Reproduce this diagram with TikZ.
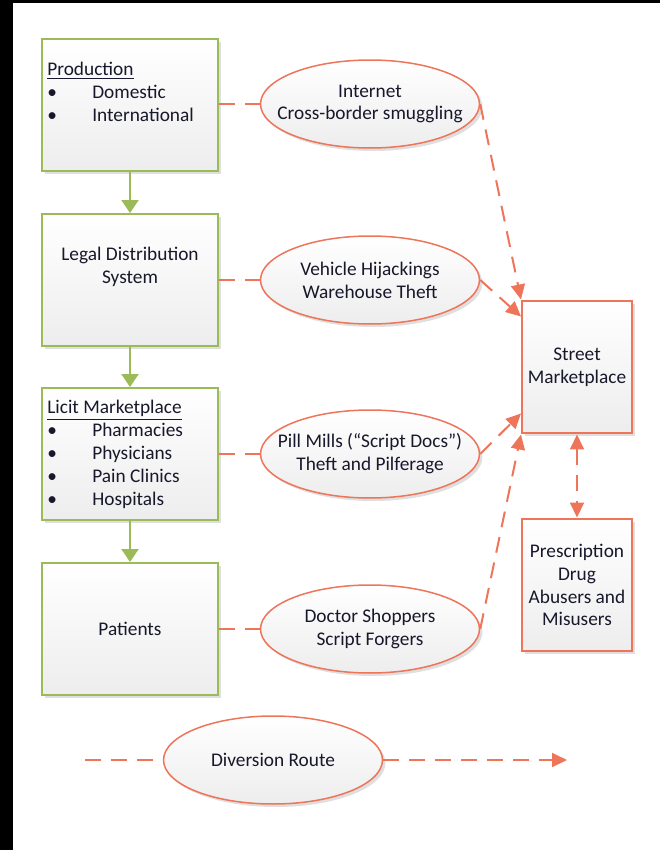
\documentclass[tikz,border=0pt]{standalone}
\usepackage{fontspec}
\setmainfont{Carlito}
\usetikzlibrary{shapes.geometric,arrows.meta,shadows}
\definecolor{boxgreen}{RGB}{155,187,89}
\definecolor{routered}{RGB}{238,116,90}
\definecolor{inktext}{RGB}{24,24,44}
\tikzset{
  shade/.style={top color=white,bottom color=gray!14,text=inktext,font=\fontsize{11}{13}\selectfont,
    drop shadow={shadow xshift=0.06cm,shadow yshift=-0.06cm,opacity=0.25}},
  greenbox/.style={shade,rectangle,draw=boxgreen,line width=0.04cm,inner sep=0pt,minimum width=3.52cm,minimum height=2.64cm,align=center},
  redbox/.style={shade,rectangle,draw=routered,line width=0.04cm,inner sep=0pt,minimum width=2.2cm,minimum height=2.66cm,align=center},
  route/.style={shade,ellipse,draw=routered,line width=0.03cm,inner ysep=0pt,inner xsep=-0.32cm,minimum width=4.38cm,minimum height=1.76cm,align=center},
  listtext/.style={inner sep=0pt,anchor=north west,align=left,text=inktext,font=\fontsize{11}{13}\selectfont},
  flow/.style={draw=boxgreen,line width=0.04cm,-{Triangle[length=0.26cm,width=0.34cm]}},
  divert/.style={draw=routered,line width=0.04cm,dash pattern=on 0.32cm off 0.2cm},
  divarrow/.style={divert,-{Triangle[length=0.3cm,width=0.28cm]}}
}
\newcommand{\bul}[1]{\makebox[0.9cm][l]{\textbullet}#1}
\begin{document}
\begin{tikzpicture}[x=0.02cm,y=-0.02cm]
\useasboundingbox (0,0) rectangle (660,850);
\fill[black] (0,0) rectangle (660,3);
\fill[black] (0,0) rectangle (13,850);

\node[greenbox] (prod) at (130,105) {};
\node[listtext] (prodlist) at (47,62) {\underline{Production}\\ \bul{Domestic}\\ \bul{International}};
\node[greenbox] (legal) at (130,280) {};
\node[inner sep=0pt,align=center,text=inktext,font=\fontsize{11}{13}\selectfont] (legaltxt) at (130,267) {Legal Distribution\\ System};
\node[greenbox] (licit) at (130,454) {};
\node[listtext] (licitlist) at (47,400) {\underline{Licit Marketplace}\\ \bul{Pharmacies}\\ \bul{Physicians}\\ \bul{Pain Clinics}\\ \bul{Hospitals}};
\node[greenbox] (patients) at (130,629) {Patients};

\draw[flow] (prod) -- (legal);
\draw[flow] (legal) -- (licit);
\draw[flow] (licit) -- (patients);

\node[route] (internet) at (370,104) {Internet\\ Cross-border smuggling};
\node[route] (vehicle) at (370,280) {Vehicle Hijackings\\ Warehouse Theft};
\node[route] (pill) at (370,454) {Pill Mills (“Script Docs”)\\ Theft and Pilferage};
\node[route] (doctor) at (370,629) {Doctor Shoppers\\ Script Forgers};

\draw[divert] (prod.east |- internet.west) -- (internet.west);
\draw[divert] (legal.east) -- (vehicle.west);
\draw[divert] (licit.east) -- (pill.west);
\draw[divert] (patients.east) -- (doctor.west);

\node[redbox] (street) at (577,367) {Street\\ Marketplace};
\node[redbox] (abusers) at (577,585) {Prescription\\ Drug\\ Abusers and\\ Misusers};

\draw[divarrow] (internet.east) -- (street.north west);
\draw[divarrow] (vehicle.east) -- ([yshift=-0.34cm]street.north west);
\draw[divarrow] (pill.east) -- ([yshift=0.42cm]street.south west);
\draw[divarrow] (doctor.east) -- (street.south west);
\draw[divert,{Triangle[length=0.3cm,width=0.28cm]}-{Triangle[length=0.3cm,width=0.28cm]}] (street) -- (abusers);

\node[route] (diversion) at (273,760) {Diversion Route};
\coordinate (legin) at (85,760);
\coordinate (legout) at (567,760);
\draw[divert] (legin) -- (diversion.west);
\draw[divarrow] (diversion.east) -- (legout);
\end{tikzpicture}
\end{document}
